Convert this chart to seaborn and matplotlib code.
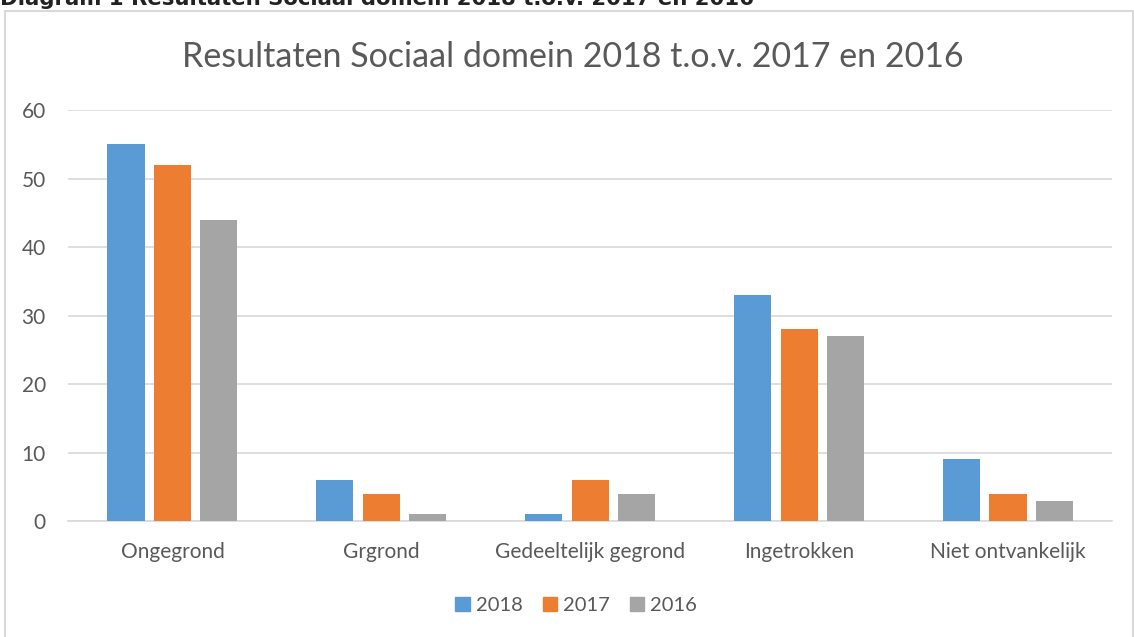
import pandas as pd
import matplotlib.pyplot as plt
import matplotlib.patches as mpatches
import seaborn as sns

categories = ['Ongegrond', 'Grgrond', 'Gedeeltelijk gegrond', 'Ingetrokken', 'Niet ontvankelijk']
years = ['2018', '2017', '2016']
values_2018 = [55, 6, 1, 33, 9]
values_2017 = [52, 4, 6, 28, 4]
values_2016 = [44, 1, 4, 27, 3]
colors = ['#5B9BD5', '#ED7D31', '#A5A5A5']

df = pd.DataFrame({
    'Categorie': categories * 3,
    'Jaar': [y for y in years for _ in categories],
    'Aantal': values_2018 + values_2017 + values_2016,
})

sns.set_theme(style='white')
plt.rcParams['font.family'] = ['Lato', 'DejaVu Sans']
text_color = '#595959'

fig = plt.figure(figsize=(11.34, 6.37), dpi=100)
ax = fig.add_axes([0.06, 0.182, 0.921, 0.645])

sns.barplot(data=df, x='Categorie', y='Aantal', hue='Jaar', hue_order=years,
            palette=colors, width=0.667, gap=0.2, saturation=1, ax=ax,
            legend=False, edgecolor='none', linewidth=0, zorder=3)

ax.set_ylim(0, 60)
ax.set_yticks(range(0, 61, 10))
ax.yaxis.grid(True, color='#D9D9D9', linewidth=1.2, zorder=0)
ax.set_axisbelow(True)
for side in ['top', 'right', 'left']:
    ax.spines[side].set_visible(False)
ax.spines['bottom'].set_color('#D9D9D9')
ax.spines['bottom'].set_linewidth(1.2)
ax.tick_params(axis='both', length=0, labelsize=15, colors=text_color)
ax.tick_params(axis='x', pad=15)
ax.tick_params(axis='y', pad=16)
ax.set_xlabel('')
ax.set_ylabel('')

fig.text(0.505, 0.91, 'Resultaten Sociaal domein 2018 t.o.v. 2017 en 2016',
         ha='center', va='center', fontsize=24.5, color=text_color)

handles = [mpatches.Patch(color=c, label=y) for c, y in zip(colors, years)]
fig.legend(handles=handles, loc='center', bbox_to_anchor=(0.508, 0.05), ncol=3,
           frameon=False, fontsize=14.5, labelcolor=text_color, handlelength=0.7,
           handleheight=0.7, handletextpad=0.3, columnspacing=1.0)

# chart frame and cut-off caption above it
fig.patches.append(mpatches.Rectangle((5 / 1134, -0.01), 1128 / 1134, 1 - 11 / 637 + 0.01,
                                      transform=fig.transFigure, fill=False,
                                      edgecolor='#D9D9D9', linewidth=1.5))
fig.text(0.0, 1 - 5 / 637, 'Diagram 1 Resultaten Sociaal domein 2018 t.o.v. 2017 en 2016',
         ha='left', va='baseline', fontsize=15.3, fontweight='bold', color='#222222',
         family=['DejaVu Sans'])

fig.savefig('out.png', dpi=100, facecolor='white')
